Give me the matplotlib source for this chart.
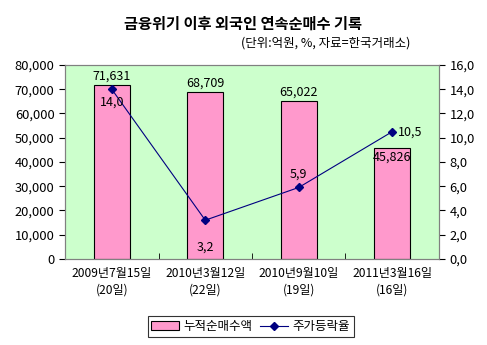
import numpy as np
import matplotlib.pyplot as plt
from matplotlib.ticker import FuncFormatter, MultipleLocator

plt.rcParams['font.family'] = ['Noto Sans CJK KR', 'DejaVu Sans']

dates = ['2009년7월15일\n(20일)', '2010년3월12일\n(22일)', '2010년9월10일\n(19일)', '2011년3월16일\n(16일)']
amount = [71631, 68709, 65022, 45826]
change = [14.0, 3.2, 5.9, 10.5]

fig = plt.figure(figsize=(4.87, 3.45), dpi=100)
ax = fig.add_axes([0.1335, 0.2493, 0.7679, 0.5623])
ax.set_facecolor('#CCFFCC')
x = np.arange(len(dates))
bars = ax.bar(x, amount, width=0.39, color='#FF99CC', edgecolor='black', linewidth=0.8, label='누적순매수액')
ax.set_xlim(-0.5, len(dates) - 0.5)
ax.set_ylim(0, 80000)
ax.yaxis.set_major_locator(MultipleLocator(10000))
ax.yaxis.set_major_formatter(FuncFormatter(lambda v, p: f'{int(v):,}'))
ax.set_xticks(x)
ax.set_xticklabels(dates, fontsize=8.7, linespacing=1.3)
ax.set_xticks(np.arange(-0.5, len(dates)), minor=True)
ax.tick_params(axis='x', which='major', length=0, pad=6)
ax.tick_params(axis='x', which='minor', length=4, direction='in')
ax.tick_params(axis='y', labelsize=9.3, length=4, direction='out')

for i, v in enumerate(amount):
    if i == 3:
        ax.text(x[i], v - 1000, f'{v:,}', ha='center', va='top', fontsize=9)
    else:
        ax.text(x[i], v + 1200, f'{v:,}', ha='center', va='bottom', fontsize=9)

ax2 = ax.twinx()
line, = ax2.plot(x, change, color='#000080', marker='D', markersize=3.8, linewidth=0.8, label='주가등락율')
ax2.set_ylim(0, 16)
ax2.yaxis.set_major_locator(MultipleLocator(2))
ax2.yaxis.set_major_formatter(FuncFormatter(lambda v, p: f'{v:.1f}'.replace('.', ',')))
ax2.tick_params(axis='y', labelsize=9.3, length=4, direction='out')

offsets = [(0, -0.5, 'center', 'top'), (0, -1.7, 'center', 'top'),
           (0, 0.6, 'center', 'bottom'), (0.06, 0, 'left', 'center')]
for i, v in enumerate(change):
    dx, dy, ha, va = offsets[i]
    ax2.text(x[i] + dx, v + dy, f'{v:.1f}'.replace('.', ','), ha=ha, va=va, fontsize=9)

for a in (ax, ax2):
    for s in a.spines.values():
        s.set_color('#808080')
        s.set_linewidth(0.8)

fig.text(0.5, 0.93, '금융위기 이후 외국인 연속순매수 기록', ha='center', va='center', fontsize=11, fontweight='bold')
fig.text(0.843, 0.875, '(단위:억원, %, 자료=한국거래소)', ha='right', va='center', fontsize=9)

leg = fig.legend([bars, line], ['누적순매수액', '주가등락율'], loc='center', bbox_to_anchor=(0.515, 0.053),
                 ncol=2, fontsize=9, frameon=True, fancybox=False, edgecolor='black',
                 handlelength=2.2, handletextpad=0.4, columnspacing=0.6, borderpad=0.3)
leg.get_frame().set_linewidth(0.8)

fig.savefig('out.png', dpi=100)
